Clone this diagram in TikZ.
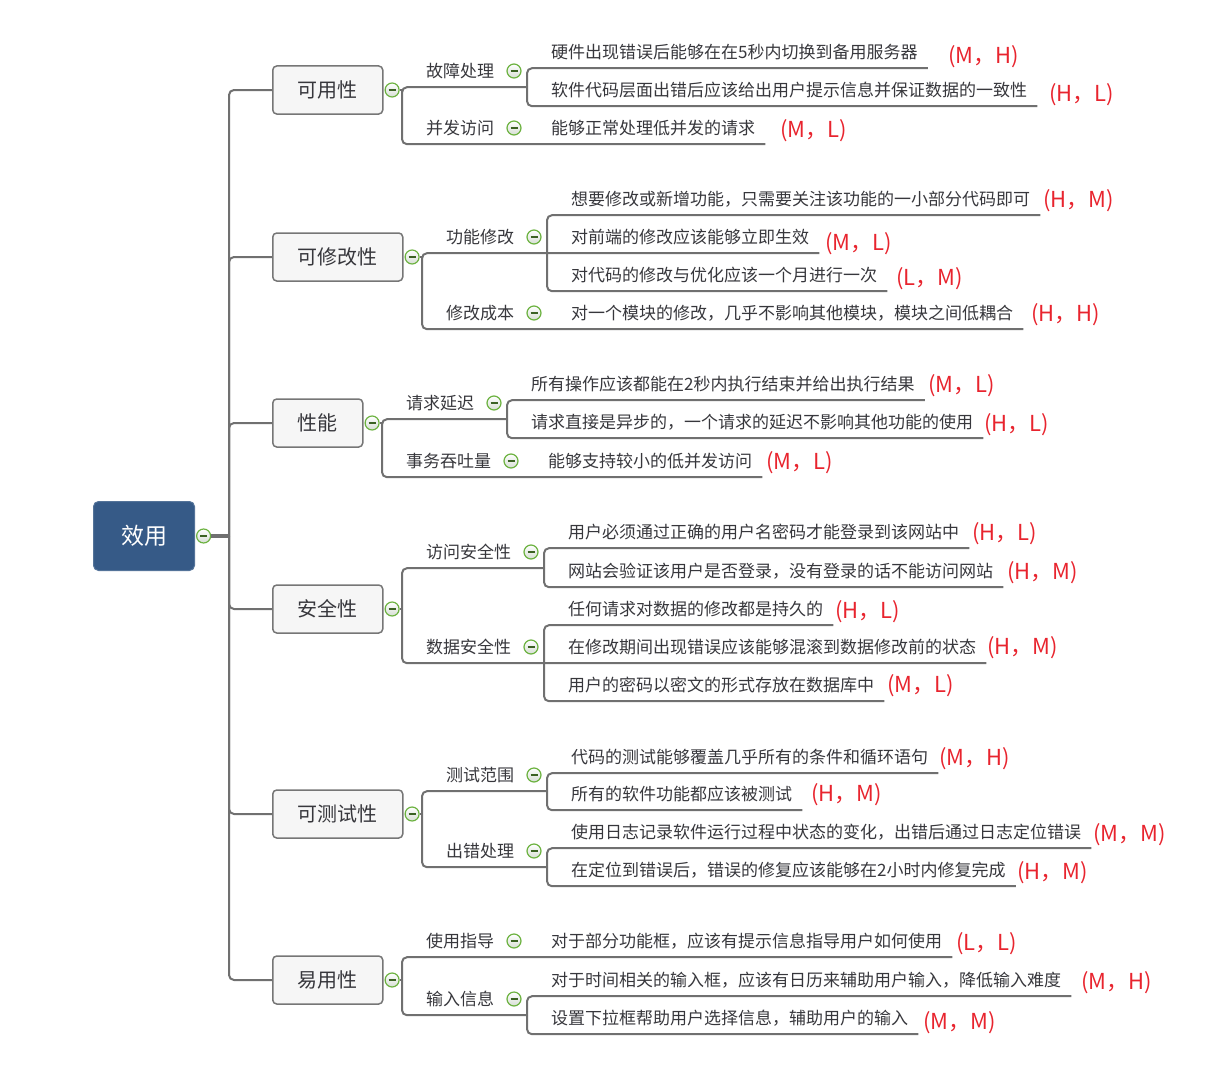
\documentclass[tikz,border=0pt]{standalone}
\usepackage{fontspec}
\setmainfont{Noto Sans CJK SC}
\usepackage{tikz}
\usetikzlibrary{positioning}
\definecolor{linegray}{RGB}{112,112,112}
\definecolor{boxgray}{RGB}{118,118,118}
\definecolor{boxfill}{RGB}{246,246,246}
\definecolor{rootblue}{RGB}{54,90,135}
\definecolor{textgray}{RGB}{55,55,60}
\definecolor{ratingred}{RGB}{232,36,46}
\definecolor{foldgreen}{RGB}{108,178,64}
\definecolor{foldfill}{RGB}{214,222,212}

\begin{document}
\begin{tikzpicture}[x=1pt,y=-1pt]
\tikzstyle{link}=[draw=linegray,line width=2pt,rounded corners=5pt]
\tikzstyle{central}=[anchor=west,draw=rootblue!85!white,fill=rootblue,line width=1pt,rounded corners=5pt,minimum height=69pt,inner xsep=27.5pt,inner ysep=0pt,text=white,font=\fontsize{23pt}{28pt}\selectfont]
\tikzstyle{topic}=[anchor=west,draw=boxgray,fill=boxfill,line width=1.5pt,rounded corners=4pt,minimum height=48pt,inner xsep=25pt,inner ysep=0pt,text=textgray,font=\fontsize{20pt}{24pt}\selectfont]
\tikzstyle{leaf}=[anchor=west,inner sep=0pt,minimum height=32pt,text=textgray,font=\fontsize{17pt}{20pt}\selectfont]
\tikzstyle{rating}=[anchor=west,inner sep=0pt,yshift=-2pt,text=ratingred,font=\fontsize{22pt}{26pt}\selectfont]
\tikzstyle{fold}=[circle,draw=foldgreen,top color=white,bottom color=foldfill,line width=1.2pt,minimum size=14pt,inner sep=0pt,
  path picture={\draw[foldgreen!55!black,line width=1.2pt] ([xshift=-3.5pt]path picture bounding box.center) -- ([xshift=3.5pt]path picture bounding box.center);}]
\useasboundingbox (0,0) rectangle (1213,1081);

% root
\node[central] (xiaoyong) at (93,536) {效用};
\node[fold,right=1pt of xiaoyong] (xiaoyong-c) {};
\coordinate (xiaoyong-j) at (229,536);

% main topics
\node[topic] (keyong) at (272,90) {可用性};
\node[topic] (kexiugai) at (272,257) {可修改性};
\node[topic] (xingneng) at (272,423) {性能};
\node[topic] (anquan) at (272,609) {安全性};
\node[topic] (keceshi) at (272,814) {可测试性};
\node[topic] (yiyong) at (272,980) {易用性};
\node[fold,right=1pt of keyong] (keyong-c) {};
\node[fold,right=1pt of kexiugai] (kexiugai-c) {};
\node[fold,right=1pt of xingneng] (xingneng-c) {};
\node[fold,right=1pt of anquan] (anquan-c) {};
\node[fold,right=1pt of keceshi] (keceshi-c) {};
\node[fold,right=1pt of yiyong] (yiyong-c) {};
\coordinate (keyong-j) at (402,90);
\coordinate (kexiugai-j) at (422,257);
\coordinate (xingneng-j) at (382,423);
\coordinate (anquan-j) at (402,609);
\coordinate (keceshi-j) at (422,814);
\coordinate (yiyong-j) at (402,980);

\draw[link,line width=3.5pt] (xiaoyong-c) -- (xiaoyong-j);
\foreach \t in {keyong,kexiugai,xingneng,anquan,keceshi,yiyong}
  \draw[link] (xiaoyong-j) |- (\t.west);
\foreach \t in {keyong,kexiugai,xingneng,anquan,keceshi,yiyong}
  \draw[link] (\t-c) -- (\t-j);

% 可用性
\node[leaf] (guzhang) at (426,71) {故障处理};
\node[fold,right=12pt of guzhang] (guzhang-c) {};
\coordinate (guzhang-j) at (527,87);
\node[leaf] (guzhang-1) at (551,52) {硬件出现错误后能够在在5秒内切换到备用服务器};
\node[rating] at (948,55) {(M，H)};
\node[leaf] (guzhang-2) at (551,90) {软件代码层面出错后应该给出用户提示信息并保证数据的一致性};
\node[rating] at (1049,93) {(H，L)};
\node[leaf] (bingfa) at (426,128) {并发访问};
\node[fold,right=12pt of bingfa] (bingfa-c) {};
\node[leaf] (bingfa-1) at (551,128) {能够正常处理低并发的请求};
\node[rating] at (780,129) {(M，L)};
\draw[link] (keyong-j) |- (guzhang.south west) -- (guzhang-j);
\draw[link] (keyong-j) |- (bingfa.south west) -- ([xshift=10pt]bingfa-1.south east);
\draw[link] (guzhang-j) |- (guzhang-1.south west) -- ([xshift=10pt]guzhang-1.south east);
\draw[link] (guzhang-j) |- (guzhang-2.south west) -- ([xshift=10pt]guzhang-2.south east);

% 可修改性
\node[leaf] (gongneng) at (446,237) {功能修改};
\node[fold,right=12pt of gongneng] (gongneng-c) {};
\coordinate (gongneng-j) at (547,253);
\node[leaf] (gongneng-1) at (571,199) {想要修改或新增功能，只需要关注该功能的一小部分代码即可};
\node[rating] at (1043,199) {(H，M)};
\node[leaf] (gongneng-2) at (571,237) {对前端的修改应该能够立即生效};
\node[rating] at (825,242) {(M，L)};
\node[leaf] (gongneng-3) at (571,275) {对代码的修改与优化应该一个月进行一次};
\node[rating] at (896,277) {(L，M)};
\node[leaf] (chengben) at (446,313) {修改成本};
\node[fold,right=12pt of chengben] (chengben-c) {};
\node[leaf] (chengben-1) at (571,313) {对一个模块的修改，几乎不影响其他模块，模块之间低耦合};
\node[rating] at (1031,313) {(H，H)};
\draw[link] (kexiugai-j) |- (gongneng.south west) -- (gongneng-j);
\draw[link] (kexiugai-j) |- (chengben.south west) -- ([xshift=10pt]chengben-1.south east);
\draw[link] (gongneng-j) |- (gongneng-1.south west) -- ([xshift=10pt]gongneng-1.south east);
\draw[link] (gongneng-j) -- ([xshift=10pt]gongneng-2.south east);
\draw[link] (gongneng-j) |- (gongneng-3.south west) -- ([xshift=10pt]gongneng-3.south east);

% 性能
\node[leaf] (yanchi) at (406,403) {请求延迟};
\node[fold,right=12pt of yanchi] (yanchi-c) {};
\coordinate (yanchi-j) at (507,419);
\node[leaf] (yanchi-1) at (531,384) {所有操作应该都能在2秒内执行结束并给出执行结果};
\node[rating] at (928,384) {(M，L)};
\node[leaf] (yanchi-2) at (531,422) {请求直接是异步的，一个请求的延迟不影响其他功能的使用};
\node[rating] at (984,423) {(H，L)};
\node[leaf] (tuntu) at (406,461) {事务吞吐量};
\node[fold,right=12pt of tuntu] (tuntu-c) {};
\node[leaf] (tuntu-1) at (548,461) {能够支持较小的低并发访问};
\node[rating] at (766,461) {(M，L)};
\draw[link] (xingneng-j) |- (yanchi.south west) -- (yanchi-j);
\draw[link] (xingneng-j) |- (tuntu.south west) -- ([xshift=10pt]tuntu-1.south east);
\draw[link] (yanchi-j) |- (yanchi-1.south west) -- ([xshift=10pt]yanchi-1.south east);
\draw[link] (yanchi-j) |- (yanchi-2.south west) -- ([xshift=10pt]yanchi-2.south east);

% 安全性
\node[leaf] (fangwen) at (426,552) {访问安全性};
\node[fold,right=12pt of fangwen] (fangwen-c) {};
\coordinate (fangwen-j) at (544,568);
\node[leaf] (fangwen-1) at (568,532) {用户必须通过正确的用户名密码才能登录到该网站中};
\node[rating] at (972,532) {(H，L)};
\node[leaf] (fangwen-2) at (568,571) {网站会验证该用户是否登录，没有登录的话不能访问网站};
\node[rating] at (1007,571) {(H，M)};
\node[leaf] (shuju) at (426,647) {数据安全性};
\node[fold,right=12pt of shuju] (shuju-c) {};
\coordinate (shuju-j) at (544,663);
\node[leaf] (shuju-1) at (568,609) {任何请求对数据的修改都是持久的};
\node[rating] at (835,610) {(H，L)};
\node[leaf] (shuju-2) at (568,647) {在修改期间出现错误应该能够混滚到数据修改前的状态};
\node[rating] at (987,646) {(H，M)};
\node[leaf] (shuju-3) at (568,685) {用户的密码以密文的形式存放在数据库中};
\node[rating] at (887,684) {(M，L)};
\draw[link] (anquan-j) |- (fangwen.south west) -- (fangwen-j);
\draw[link] (anquan-j) |- (shuju.south west) -- (shuju-j);
\draw[link] (fangwen-j) |- (fangwen-1.south west) -- ([xshift=10pt]fangwen-1.south east);
\draw[link] (fangwen-j) |- (fangwen-2.south west) -- ([xshift=10pt]fangwen-2.south east);
\draw[link] (shuju-j) |- (shuju-1.south west) -- ([xshift=10pt]shuju-1.south east);
\draw[link] (shuju-j) -- ([xshift=10pt]shuju-2.south east);
\draw[link] (shuju-j) |- (shuju-3.south west) -- ([xshift=10pt]shuju-3.south east);

% 可测试性
\node[leaf] (fanwei) at (446,775) {测试范围};
\node[fold,right=12pt of fanwei] (fanwei-c) {};
\coordinate (fanwei-j) at (547,791);
\node[leaf] (fanwei-1) at (571,757) {代码的测试能够覆盖几乎所有的条件和循环语句};
\node[rating] at (939,757) {(M，H)};
\node[leaf] (fanwei-2) at (571,794) {所有的软件功能都应该被测试};
\node[rating] at (811,793) {(H，M)};
\node[leaf] (chucuo) at (446,851) {出错处理};
\node[fold,right=12pt of chucuo] (chucuo-c) {};
\coordinate (chucuo-j) at (547,867);
\node[leaf] (chucuo-1) at (571,832) {使用日志记录软件运行过程中状态的变化，出错后通过日志定位错误};
\node[rating] at (1093,833) {(M，M)};
\node[leaf] (chucuo-2) at (571,870) {在定位到错误后，错误的修复应该能够在2小时内修复完成};
\node[rating] at (1017,871) {(H，M)};
\draw[link] (keceshi-j) |- (fanwei.south west) -- (fanwei-j);
\draw[link] (keceshi-j) |- (chucuo.south west) -- (chucuo-j);
\draw[link] (fanwei-j) |- (fanwei-1.south west) -- ([xshift=10pt]fanwei-1.south east);
\draw[link] (fanwei-j) |- (fanwei-2.south west) -- ([xshift=10pt]fanwei-2.south east);
\draw[link] (chucuo-j) |- (chucuo-1.south west) -- ([xshift=10pt]chucuo-1.south east);
\draw[link] (chucuo-j) |- (chucuo-2.south west) -- ([xshift=10pt]chucuo-2.south east);

% 易用性
\node[leaf] (zhidao) at (426,941) {使用指导};
\node[fold,right=12pt of zhidao] (zhidao-c) {};
\node[leaf] (zhidao-1) at (551,941) {对于部分功能框，应该有提示信息指导用户如何使用};
\node[rating] at (956,942) {(L，L)};
\node[leaf] (shuru) at (426,999) {输入信息};
\node[fold,right=12pt of shuru] (shuru-c) {};
\coordinate (shuru-j) at (527,1015);
\node[leaf] (shuru-1) at (551,980) {对于时间相关的输入框，应该有日历来辅助用户输入，降低输入难度};
\node[rating] at (1081,981) {(M，H)};
\node[leaf] (shuru-2) at (551,1018) {设置下拉框帮助用户选择信息，辅助用户的输入};
\node[rating] at (923,1021) {(M，M)};
\draw[link] (yiyong-j) |- (zhidao.south west) -- ([xshift=10pt]zhidao-1.south east);
\draw[link] (yiyong-j) |- (shuru.south west) -- (shuru-j);
\draw[link] (shuru-j) |- (shuru-1.south west) -- ([xshift=10pt]shuru-1.south east);
\draw[link] (shuru-j) |- (shuru-2.south west) -- ([xshift=10pt]shuru-2.south east);
\end{tikzpicture}
\end{document}
